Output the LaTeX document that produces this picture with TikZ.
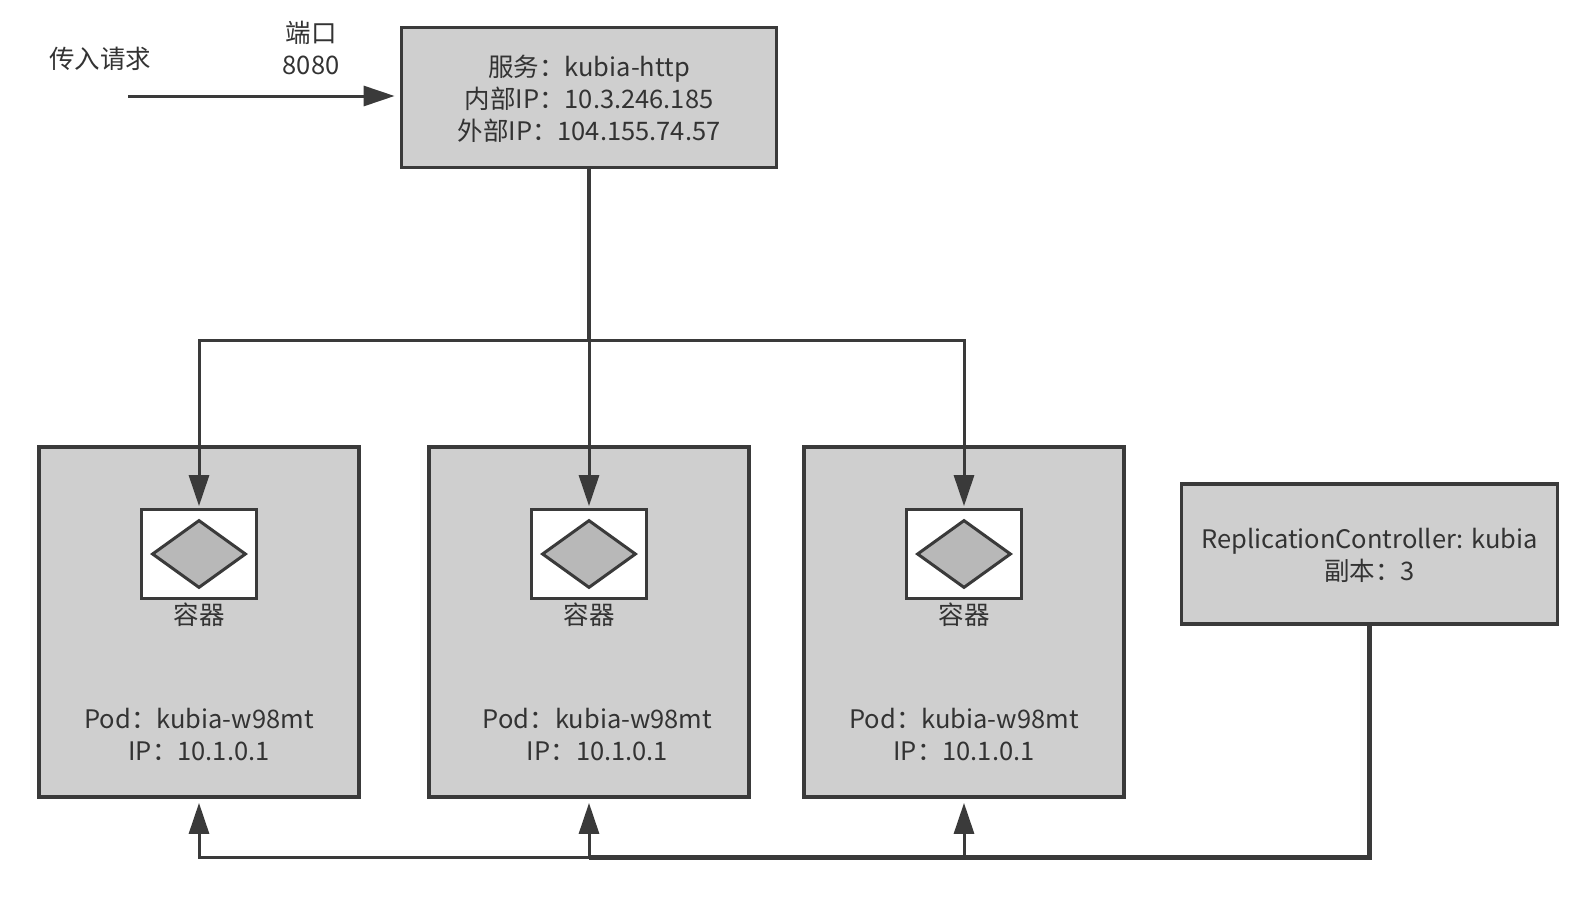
\documentclass[tikz,border=0pt]{standalone}
\usepackage{fontspec}
\setmainfont{Noto Sans CJK SC}
\usetikzlibrary{arrows.meta,shapes.geometric}
\definecolor{linegray}{HTML}{3A3A3A}
\definecolor{boxgray}{HTML}{CFCFCF}
\definecolor{diamondgray}{HTML}{B8B8B8}
\definecolor{textgray}{HTML}{333333}
\tikzset{
  label text/.style={text=textgray,align=center,inner sep=0pt,font=\fontsize{25.5}{32}\selectfont},
  grey box/.style={draw=linegray,fill=boxgray,line width=3.8pt,inner sep=0pt},
  pod box/.style={grey box,minimum width=320pt,minimum height=350pt},
  container box/.style={draw=linegray,fill=white,line width=3.8pt,minimum width=115pt,minimum height=89pt,inner sep=0pt},
  container mark/.style={diamond,aspect=1.38,draw=linegray,fill=diamondgray,line width=3pt,minimum width=94pt,minimum height=68pt,inner sep=0pt},
  feed/.style={draw=linegray,line width=3pt,-{Triangle[length=31pt,width=20pt]}},
  trunk/.style={draw=linegray,line width=4.2pt}
}
\begin{document}
\begin{tikzpicture}[x=1pt,y=-1pt]
  \useasboundingbox (0,0) rectangle (1580,900);
  % top row
  \node[grey box,minimum width=375pt,minimum height=140pt] (service) at (589,97.5) {};
  \node[label text] (servicetext) at (589,99) {服务：kubia-http\\内部IP：10.3.246.185\\外部IP：104.155.74.57};
  \node[label text] (incoming) at (100,59) {传入请求};
  \node[label text] (port) at (311,48) {端口\\8080};
  \coordinate (source) at (128,96);
  \coordinate (fork) at (589,340);
  \coordinate (collect) at (589,857.5);
  % pods
  \node[pod box] (poda) at (199,622) {};
  \node[pod box] (podb) at (589,622) {};
  \node[pod box] (podc) at (964,622) {};
  \node[container box] (ctra) at (199,554) {};
  \node[container box] (ctrb) at (589,554) {};
  \node[container box] (ctrc) at (964,554) {};
  \node[container mark] (marka) at (199,554) {};
  \node[container mark] (markb) at (589,554) {};
  \node[container mark] (markc) at (964,554) {};
  \node[label text] (ctrtexta) at (199,615) {容器};
  \node[label text] (ctrtextb) at (589,615) {容器};
  \node[label text] (ctrtextc) at (964,615) {容器};
  \node[label text] (podtexta) at (199,735) {Pod：kubia-w98mt\\IP：10.1.0.1};
  \node[label text] (podtextb) at (597.5,735) {Pod：kubia-w98mt\\IP：10.1.0.1};
  \node[label text] (podtextc) at (964,735) {Pod：kubia-w98mt\\IP：10.1.0.1};
  % controller
  \node[grey box,minimum width=376pt,minimum height=140pt] (controller) at (1369.5,554) {};
  \node[label text] (controllertext) at (1369.5,555) {ReplicationController: kubia\\副本：3};
  % connectors
  \draw[feed,shorten >=5pt] (source) -- (source -| service.west);
  \draw[trunk] (service.south) -- (fork);
  \begin{scope}[shorten >=1.5pt]
    \draw[feed] (fork) -- (ctrb.north);
    \draw[feed] (fork) -| (ctra.north);
    \draw[feed] (fork) -| (ctrc.north);
  \end{scope}
  \draw[trunk] (controller.south) |- (collect);
  \begin{scope}[shorten >=4pt]
    \draw[feed] (collect) -- (podb.south);
    \draw[feed] (collect) -| (poda.south);
    \draw[feed] (collect) -| (podc.south);
  \end{scope}
\end{tikzpicture}
\end{document}
